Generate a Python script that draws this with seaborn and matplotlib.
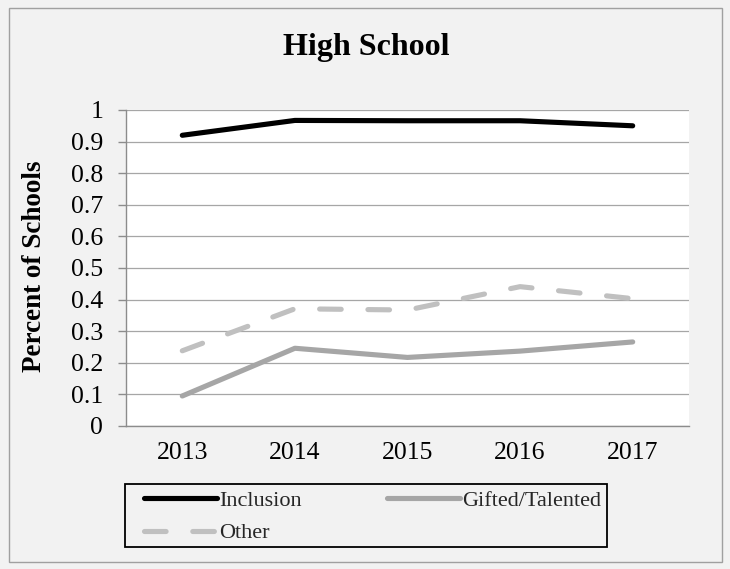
import matplotlib
matplotlib.use("Agg")
import matplotlib.pyplot as plt
from matplotlib.patches import Rectangle
import seaborn as sns
import pandas as pd

# Share of high schools offering each program, by school year
years = ["2013", "2014", "2015", "2016", "2017"]
inclusion = [0.92, 0.967, 0.966, 0.966, 0.95]
gifted_talented = [0.095, 0.246, 0.217, 0.237, 0.266]
other = [0.238, 0.371, 0.367, 0.441, 0.403]

series_names = ["Inclusion", "Gifted/Talented", "Other"]
y_ticks = [0, 0.1, 0.2, 0.3, 0.4, 0.5, 0.6, 0.7, 0.8, 0.9, 1.0]
y_tick_labels = ["0", "0.1", "0.2", "0.3", "0.4", "0.5", "0.6", "0.7", "0.8", "0.9", "1"]

df = pd.DataFrame({
    "Year": years * 3,
    "Percent": inclusion + gifted_talented + other,
    "Program": [n for n in series_names for _ in years],
})

sns.set_theme(style="white")
plt.rcParams["font.family"] = ["Liberation Serif", "DejaVu Serif"]

BG = "#f2f2f2"
AXIS_GRAY = "#8c8c8c"
GRID_GRAY = "#a6a6a6"

W, H = 730, 569
fig = plt.figure(figsize=(W / 100, H / 100), dpi=100, facecolor=BG)
ax = fig.add_axes([126 / W, 1 - 426 / H, 563 / W, 316 / H])
ax.set_facecolor("white")

palette = {"Inclusion": "#000000", "Gifted/Talented": "#a6a6a6", "Other": "#c0c0c0"}
dashes = {"Inclusion": "", "Gifted/Talented": "", "Other": (4.2, 5.2)}

sns.lineplot(
    data=df, x="Year", y="Percent", hue="Program", style="Program",
    hue_order=series_names, style_order=series_names,
    palette=palette, dashes=dashes, linewidth=3.7, ax=ax, legend=False,
)
for line in ax.lines:
    line.set_solid_capstyle("round")
    line.set_dash_capstyle("round")
    line.set_solid_joinstyle("round")
    line.set_dash_joinstyle("round")

ax.set_xlim(-0.5, len(years) - 0.5)
ax.set_ylim(0, 1)

# Category labels centred, tick marks on the category boundaries
ax.set_xticks(range(len(years)))
ax.set_xticklabels(years)
ax.set_xticks([i - 0.5 for i in range(len(years) + 1)], minor=True)
ax.tick_params(axis="x", which="major", length=0, pad=11.5, labelsize=18.5, colors="black")
ax.tick_params(axis="x", which="minor", length=5.8, width=1, color=AXIS_GRAY, direction="out")

ax.set_yticks(y_ticks)
ax.set_yticklabels(y_tick_labels)
ax.tick_params(axis="y", which="major", length=5.8, width=1, color=AXIS_GRAY,
               direction="out", pad=10.5, labelsize=18.5, labelcolor="black")
ax.tick_params(left=True, bottom=True)

ax.grid(axis="y", color=GRID_GRAY, linewidth=0.9)
ax.grid(axis="x", visible=False)
ax.set_axisbelow(True)

for side in ["top", "right"]:
    ax.spines[side].set_visible(False)
for side in ["left", "bottom"]:
    ax.spines[side].set_color(AXIS_GRAY)
    ax.spines[side].set_linewidth(1.0)

ax.set_xlabel("")
ax.set_ylabel("Percent of Schools", fontsize=19.5, fontweight="bold", color="black")
ax.yaxis.set_label_coords(-0.14, 0.505)

fig.suptitle("High School", x=366 / W, y=1 - 48 / H, va="center",
             fontsize=23, fontweight="bold", color="black")

# Legend filled column by column: Inclusion / Other on the left, Gifted/Talented on the right
line_by_name = dict(zip(series_names, ax.lines))
legend_order = ["Inclusion", "Other", "Gifted/Talented"]
leg = fig.legend(
    [line_by_name[n] for n in legend_order], legend_order, ncol=2, loc="upper left",
    bbox_to_anchor=(144 / W, 1 - 490 / H), bbox_transform=fig.transFigure,
    frameon=False, fontsize=16, handlelength=3.3, handletextpad=0.1,
    columnspacing=3.8, labelspacing=0.55, borderpad=0, borderaxespad=0,
)
for h in leg.legend_handles:
    h.set_solid_capstyle("round")
    h.set_dash_capstyle("round")

# Legend box
fig.patches.append(Rectangle((125 / W, 1 - 547 / H), 482 / W, 63 / H,
                             transform=fig.transFigure, fill=False,
                             edgecolor="black", linewidth=1.3))

# Outer chart border
fig.patches.append(Rectangle((9 / W, 1 - 562 / H), 713 / W, 554 / H,
                             transform=fig.transFigure, fill=False,
                             edgecolor="#a0a0a0", linewidth=1.0))

fig.savefig("out.png", dpi=100, facecolor=BG)
